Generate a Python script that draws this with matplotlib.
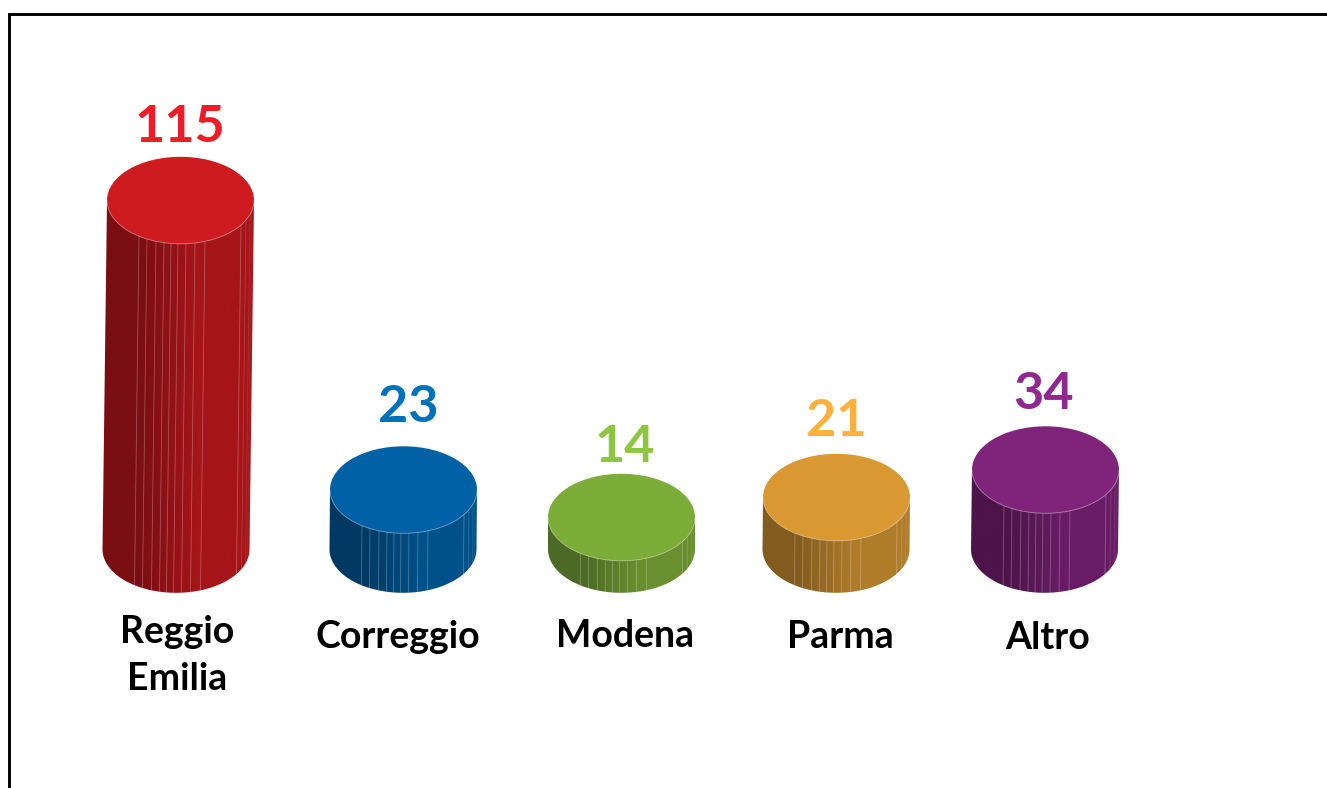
import numpy as np
import matplotlib
matplotlib.use("Agg")
import matplotlib.pyplot as plt
from matplotlib.colors import LinearSegmentedColormap
from matplotlib.patches import Ellipse, Polygon

# ---- data ----
categories = ["Reggio\nEmilia", "Correggio", "Modena", "Parma", "Altro"]
values = [115, 23, 14, 21, 34]

# The picture's height scale is not proportional: anchors (value -> drawn px)
scale_values = [0, 14, 21, 23, 34, 115]
scale_pixels = [0, 32, 52, 59.5, 79.5, 349]

# ---- styling / layout ----
top_colors = ["#cd1b20", "#0061a6", "#7cad39", "#da9833", "#80237b"]
side_left = ["#7a0e13", "#003a63", "#4c6a25", "#835c1f", "#4c1449"]
side_right = ["#a51519", "#00518a", "#69902f", "#b07c2a", "#691c65"]
value_colors = ["#ef1c26", "#0072bc", "#8dc63f", "#fdb03b", "#92278f"]

top_x = [180.5, 403.5, 621.5, 836.5, 1045.5]
base_x = [176.0, 403.0, 621.5, 836.0, 1044.5]
value_x = [180, 408, 625, 836, 1044]
value_base = [142, 422, 462, 436, 409]
label_x = [177, 397.5, 625, 840, 1048]
label_base = [643, 648, 647, 648, 649]
label_line = 47
BASE_Y = 549.3
RX, RY = 73.5, 43.5
streak_offsets = [32, 40, 49, 57, 64, 71, 79, 88, 98, 134, 139, 143, 145]
streak_alpha = [0.3] * 9 + [0.3, 0.18, 0.12, 0.08]

FONT = ["Lato", "DejaVu Sans"]
W, H = 1327, 788

fig = plt.figure(figsize=(W / 100, H / 100), dpi=100, facecolor="white")


def forward(v):
    return np.interp(v, scale_values, scale_pixels)


def inverse(p):
    return np.interp(p, scale_pixels, scale_values)


# invisible value axis that carries the scale
vax = fig.add_axes([0, (H - BASE_Y) / H, 1, scale_pixels[-1] / H])
vax.set_yscale("function", functions=(forward, inverse))
vax.set_ylim(0, max(scale_values))
vax.set_xlim(0, W)
vax.axis("off")

# pixel canvas
ax = fig.add_axes([0, 0, 1, 1])
ax.set_xlim(0, W)
ax.set_ylim(H, 0)
ax.axis("off")
ax.patch.set_alpha(0)


def arc(cx, cy, t0, t1, n=80):
    t = np.linspace(t0, t1, n)
    return np.column_stack([cx + RX * np.cos(t), cy + RY * np.sin(t)])


for i, v in enumerate(values):
    y_top = H - vax.transData.transform((0, v))[1]
    xt, xb = top_x[i], base_x[i]

    bottom = arc(xb, BASE_Y, 0, np.pi)  # right -> left, through the front
    outline = np.vstack([[[xt + RX, y_top]], bottom, [[xt - RX, y_top]]])
    poly = Polygon(outline, closed=True, fc="none", ec="none", transform=ax.transData)
    ax.add_patch(poly)

    cmap = LinearSegmentedColormap.from_list(
        "side",
        [(0, side_left[i]), (0.24, side_left[i]), (0.62, side_right[i]), (1, side_right[i])],
    )
    left = min(xt, xb) - RX - 1
    right = max(xt, xb) + RX + 1
    img = ax.imshow(
        np.linspace(0, 1, 256)[None, :],
        cmap=cmap,
        extent=(left, right, BASE_Y + RY + 1, y_top - 1),
        aspect="auto",
        interpolation="bilinear",
        zorder=2,
    )
    img.set_clip_path(poly)

    # thin light streaks on the side wall
    for off, a in zip(streak_offsets, streak_alpha):
        u = off / (2 * RX)
        t = np.arccos(np.clip(2 * u - 1, -1, 1))
        x0 = xt - RX + off
        x1 = xb - RX + off
        y0 = y_top + RY * np.sin(t)
        y1 = BASE_Y + RY * np.sin(t)
        ax.plot([x0, x1], [y0, y1], color="white", alpha=a, lw=0.55,
                solid_capstyle="butt", zorder=3)

    ax.add_patch(Ellipse((xt, y_top), 2 * RX, 2 * RY, fc=top_colors[i], ec="none", zorder=4))
    rim = arc(xt, y_top, 0, np.pi)
    ax.plot(rim[:, 0], rim[:, 1], color="white", alpha=0.45, lw=0.6, zorder=5)

    ax.text(value_x[i], value_base[i], str(v), color=value_colors[i], fontsize=37.5,
            fontweight="bold", family=FONT, ha="center", va="baseline", zorder=6)

    for j, line in enumerate(categories[i].split("\n")):
        ax.text(label_x[i], label_base[i] + j * label_line, line, color="black",
                fontsize=27, fontweight="bold", family=FONT, ha="center",
                va="baseline", zorder=6)

ax.set_xlim(0, W)
ax.set_ylim(H, 0)

# frame: top and left rules, running off the picture
ax.plot([8.5, 8.5, W + 5], [H + 5, 13.5, 13.5], color="black", lw=2.1,
        solid_joinstyle="miter", zorder=7, clip_on=False)

fig.savefig("out.png", dpi=100, facecolor="white")
